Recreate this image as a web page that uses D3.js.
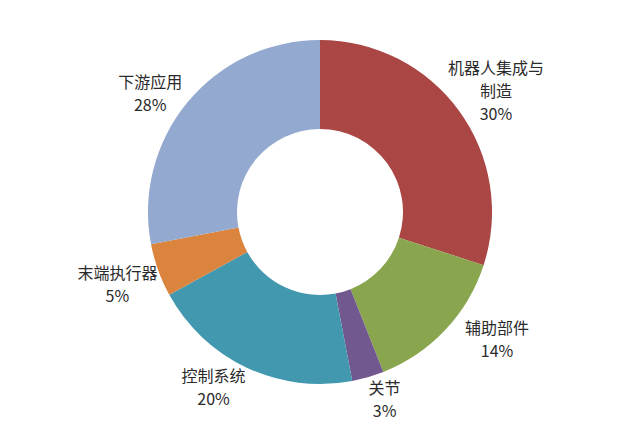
<!DOCTYPE html>
<html lang="zh">
<head>
<meta charset="UTF-8">
<title>Donut</title>
<script src="https://d3js.org/d3.v7.min.js"></script>
<style>
    body { margin: 0; background: #fff; }
    .label { font-family: "Noto Sans CJK SC", "Noto Sans", sans-serif; font-size: 16px; fill: #2a2a2a; }
</style>
</head>
<body>
<svg id="chart" width="640" height="424"></svg>
<script>
    // data, clockwise from 12 o'clock
    const categories = ["机器人集成与制造", "辅助部件", "关节", "控制系统", "末端执行器", "下游应用"];
    const shares = [30, 14, 3, 20, 5, 28];
    const labelLines = [["机器人集成与", "制造"], ["辅助部件"], ["关节"], ["控制系统"], ["末端执行器"], ["下游应用"]];
    const colors = ["#AA4643", "#89A54E", "#71588F", "#4198AF", "#DB843D", "#93A9CF"];

    // small nudges so labels sit where the original put them
    const nudge = [[6, 3], [24, -16], [6, -14], [-17, -14], [-5, 2], [-8, 16]];

    const cx = 320, cy = 212;
    const outerR = 172, innerR = 83, labelR = 210;

    const svg = d3.select("#chart");
    const g = svg.append("g").attr("transform", `translate(${cx},${cy})`);

    const data = categories.map((c, i) => ({ name: c, value: shares[i], lines: labelLines[i], i: i }));

    const pie = d3.pie().value(d => d.value).sort(null);
    const arc = d3.arc().innerRadius(innerR).outerRadius(outerR);
    const labelArc = d3.arc().innerRadius(labelR).outerRadius(labelR);

    const arcs = pie(data);

    g.selectAll("path.slice")
        .data(arcs)
        .enter()
        .append("path")
        .attr("class", "slice")
        .attr("d", arc)
        .attr("fill", d => colors[d.data.i]);

    const lineH = 23;
    const labels = g.selectAll("g.lbl")
        .data(arcs)
        .enter()
        .append("g")
        .attr("class", "lbl")
        .attr("transform", d => {
            const p = labelArc.centroid(d);
            const n = nudge[d.data.i];
            return `translate(${p[0] + n[0]},${p[1] + n[1]})`;
        });

    // one text element per line
    labels.each(function(d) {
        const lines = d.data.lines.concat([d.data.value + "%"]);
        const top = -(lines.length - 1) * lineH / 2;
        d3.select(this).selectAll("text")
            .data(lines)
            .enter()
            .append("text")
            .attr("class", "label")
            .attr("text-anchor", "middle")
            .attr("y", (s, k) => top + k * lineH)
            .attr("dy", "0.35em")
            .text(s => s);
    });
</script>
</body>
</html>
